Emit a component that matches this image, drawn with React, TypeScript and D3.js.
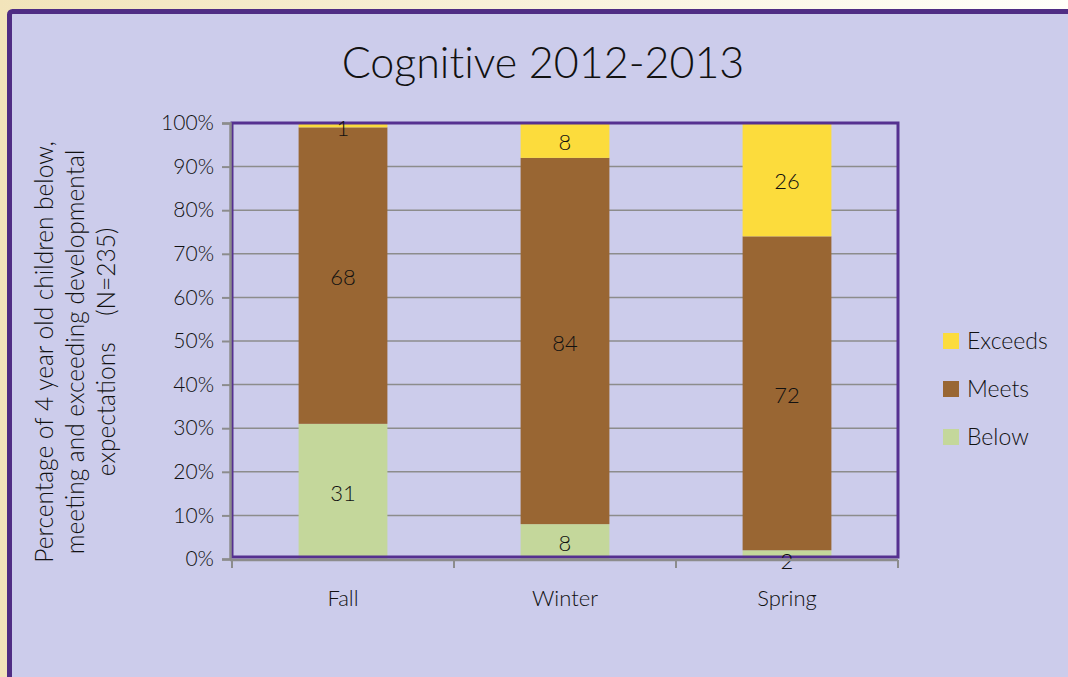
import React, { useEffect, useRef } from 'react';
import * as d3 from 'd3';

const seasons = ['Fall', 'Winter', 'Spring'];
const levels = ['Below', 'Meets', 'Exceeds'];
const below = [31, 8, 2];
const meets = [68, 84, 72];
const exceeds = [1, 8, 26];
const yTicks = [0, 10, 20, 30, 40, 50, 60, 70, 80, 90, 100];
const colors: Record<string, string> = { Below: '#C4D79B', Meets: '#996633', Exceeds: '#FCDC3C' };

const W = 1068, H = 677;
const FONT = 'Lato, "Open Sans", sans-serif';

export default function App() {
  const ref = useRef<SVGSVGElement>(null);

  useEffect(() => {
    if (!ref.current) return;
    const svg = d3.select(ref.current);
    svg.selectAll('*').remove();

    // backdrop
    const defs = svg.append('defs');
    const grad = defs.append('linearGradient').attr('id', 'bg').attr('x1', '0').attr('x2', '1');
    grad.append('stop').attr('offset', '0').attr('stop-color', '#F2E4BA');
    grad.append('stop').attr('offset', '1').attr('stop-color', '#FFFFFA');
    svg.append('rect').attr('width', W).attr('height', H).attr('fill', 'url(#bg)');
    svg.append('rect').attr('x', 9.5).attr('y', 11.5).attr('width', W + 20).attr('height', H + 20)
      .attr('rx', 3).attr('fill', '#CCCCEB').attr('stroke', '#4F2D84').attr('stroke-width', 5);

    const margin = { left: 232, right: 170, top: 123, bottom: 118 };
    const width = W - margin.left - margin.right;
    const height = H - margin.top - margin.bottom;

    const g = svg.append('g').attr('transform', `translate(${margin.left},${margin.top})`);

    const x = d3.scaleBand().domain(seasons).range([0, width]).paddingInner(0.6).paddingOuter(0.3);
    const y = d3.scaleLinear().domain([0, 100]).range([height, 0]);

    // gridlines
    g.selectAll('.grid').data(yTicks.slice(1)).enter().append('line')
      .attr('x1', 0).attr('x2', width)
      .attr('y1', d => y(d)).attr('y2', d => y(d))
      .attr('stroke', '#8C8C8C').attr('stroke-width', 1.5);

    const table = seasons.map((s, i) => ({ season: s, Below: below[i], Meets: meets[i], Exceeds: exceeds[i] }));
    const stack = d3.stack<any>().keys(levels)(table);

    stack.forEach(layer => {
      g.selectAll(null).data(layer).enter().append('rect')
        .attr('x', d => x(d.data.season)!)
        .attr('width', x.bandwidth())
        .attr('y', d => y(d[1]))
        .attr('height', d => y(d[0]) - y(d[1]))
        .attr('fill', colors[layer.key]);
    });

    // plot-area border
    g.append('rect').attr('x', 0).attr('y', 0).attr('width', width).attr('height', height - 2)
      .attr('fill', 'none').attr('stroke', '#553090').attr('stroke-width', 3);

    // data labels
    stack.forEach(layer => {
      g.selectAll(null).data(layer).enter().append('text')
        .attr('x', d => x(d.data.season)! + x.bandwidth() / 2)
        .attr('y', d => {
          const v = d[1] - d[0];
          if (v < 3) return y(d[0]) + (layer.key === 'Below' ? 2 : 1);
          return y((d[0] + d[1]) / 2) + 2;
        })
        .attr('dy', '0.35em')
        .attr('text-anchor', 'middle')
        .attr('font-family', FONT).attr('font-weight', 300).attr('font-size', 22)
        .attr('fill', '#111')
        .text(d => d[1] - d[0]);
    });

    // axes
    const yAxis = g.append('g').attr('transform', 'translate(-2,0)')
      .call(d3.axisLeft(y).tickValues(yTicks).tickSize(8).tickFormat(d => `${d}%`));
    yAxis.select('.domain').attr('stroke', '#8C8C8C').attr('stroke-width', 2.5);
    yAxis.selectAll('.tick line').attr('stroke', '#8C8C8C').attr('stroke-width', 2);
    yAxis.selectAll('.tick text').attr('font-family', FONT).attr('font-weight', 300)
      .attr('font-size', 21).attr('fill', '#111').attr('x', -16);

    const xEdge = d3.scaleLinear().domain([0, 3]).range([0, width]);
    const xAxis = g.append('g').attr('transform', `translate(0,${height + 1})`);
    xAxis.append('line').attr('x1', -2).attr('x2', width).attr('stroke', '#8C8C8C').attr('stroke-width', 2.5);
    xAxis.selectAll(null).data([0, 1, 2, 3]).enter().append('line')
      .attr('x1', d => xEdge(d)).attr('x2', d => xEdge(d)).attr('y1', 0).attr('y2', 8)
      .attr('stroke', '#8C8C8C').attr('stroke-width', 2);
    xAxis.selectAll(null).data(seasons).enter().append('text')
      .attr('x', d => x(d)! + x.bandwidth() / 2).attr('y', 46)
      .attr('text-anchor', 'middle')
      .attr('font-family', FONT).attr('font-weight', 300).attr('font-size', 22).attr('fill', '#111')
      .text(d => d);

    // title
    svg.append('text').attr('x', 543).attr('y', 78).attr('text-anchor', 'middle')
      .attr('font-family', FONT).attr('font-weight', 300).attr('font-size', 43).attr('fill', '#111')
      .style('font-variant-ligatures', 'none')
      .text('Cognitive 2012-2013');

    // y label
    const yl = svg.append('text').attr('transform', 'translate(0,352) rotate(-90)')
      .attr('text-anchor', 'middle').attr('font-family', FONT).attr('font-weight', 300)
      .attr('font-size', 24.5).attr('fill', '#111');
    const lines = ['Percentage of 4 year old children below,', 'meeting and exceeding developmental', 'expectations    (N=235)'];
    lines.forEach((l, i) => {
      yl.append('tspan').attr('x', 0).attr('y', 53 + i * 31).attr('xml:space', 'preserve').text(l);
    });

    // legend
    const legend = svg.append('g').attr('transform', 'translate(943,341)');
    [...levels].reverse().forEach((k, i) => {
      const row = legend.append('g').attr('transform', `translate(0,${i * 48})`);
      row.append('rect').attr('x', 0).attr('y', -8).attr('width', 16).attr('height', 16).attr('fill', colors[k]);
      row.append('text').attr('x', 24).attr('dy', '0.35em')
        .attr('font-family', FONT).attr('font-weight', 300).attr('font-size', 23).attr('fill', '#111')
        .text(k);
    });
  }, []);

  return <svg ref={ref} width={W} height={H} style={{ position: 'absolute', left: 0, top: 0 }} />;
}
